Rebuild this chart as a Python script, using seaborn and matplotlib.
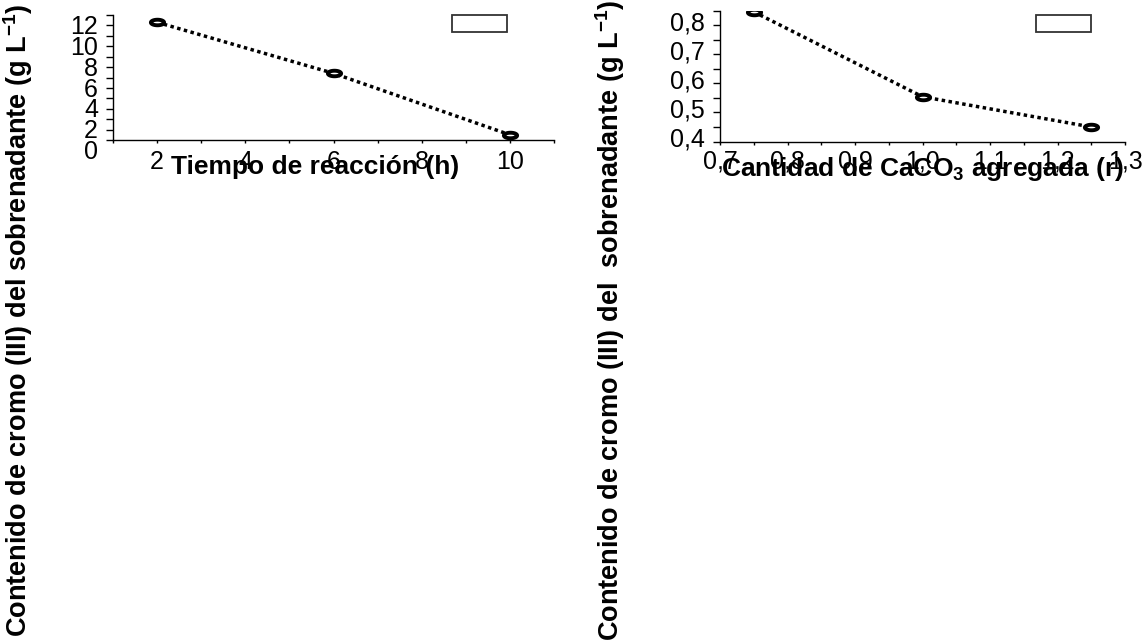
import numpy as np
import pandas as pd
import matplotlib
matplotlib.use("Agg")
import matplotlib.pyplot as plt
import matplotlib.transforms as mtransforms
from matplotlib.path import Path
from matplotlib.patches import Rectangle
import seaborn as sns

# ----------------------------
# Data
# ----------------------------
tiempo_h = [2, 6, 10]
cromo_tiempo = [11.3, 6.4, 0.5]

caco3_r = [0.75, 1.0, 1.25]
cromo_caco3 = [0.846, 0.554, 0.45]

tiempo_ticks = [2, 4, 6, 8, 10]
tiempo_yticks = [0, 2, 4, 6, 8, 10, 12]
caco3_ticks = [0.7, 0.8, 0.9, 1.0, 1.1, 1.2, 1.3]
caco3_labels = ["0,7", "0,8", "0,9", "1,0", "1,1", "1,2", "1,3"]
caco3_yticks = [0.4, 0.5, 0.6, 0.7, 0.8]
caco3_ylabels = ["0,4", "0,5", "0,6", "0,7", "0,8"]

df_t = pd.DataFrame({"tiempo": tiempo_h, "cromo": cromo_tiempo})
df_c = pd.DataFrame({"caco3": caco3_r, "cromo": cromo_caco3})

sns.set_style("ticks")
plt.rcParams["font.family"] = ["Liberation Sans", "DejaVu Sans"]
plt.rcParams["mathtext.fontset"] = "custom"
plt.rcParams["mathtext.rm"] = "Liberation Sans"
plt.rcParams["mathtext.bf"] = "Liberation Sans:bold"
for key in ("text.color", "axes.labelcolor", "xtick.color", "ytick.color",
            "axes.edgecolor"):
    plt.rcParams[key] = "black"

# flat ellipse marker like the original
t = np.linspace(0, 2 * np.pi, 60)
ellipse = Path(np.column_stack([np.cos(t), 0.42 * np.sin(t)]), closed=True)

line_kw = dict(color="black", linewidth=2.5, linestyle=(0, (1, 1)),
               marker=ellipse, markersize=9.5, markeredgewidth=2.8,
               markerfacecolor="white", markeredgecolor="black")

fig = plt.figure(figsize=(11.44, 6.4), dpi=100)
ax1 = fig.add_axes([0.0988, 0.78125, 0.3855, 0.1953])
ax2 = fig.add_axes([0.6294, 0.7789, 0.354, 0.2044])

# Panel 1: reaction time
sns.lineplot(data=df_t, x="tiempo", y="cromo", ax=ax1, **line_kw)
ax1.set_xlim(1, 11)
ax1.set_ylim(0, 12)
ax1.set_xticks(tiempo_ticks)
ax1.set_xticks(range(1, 12, 2), minor=True)
ax1.set_yticks(tiempo_yticks)
ax1.set_yticks(range(1, 12, 2), minor=True)
ax1.set_xlabel("Tiempo de reacción (h)", fontsize=19, fontweight="bold")
ax1.xaxis.set_label_coords(0.458, -0.12)
ax1.set_ylabel("")
ax1.tick_params(axis="x", which="both", direction="out", length=2.5, width=1,
                labelsize=18, pad=5)
ax1.tick_params(axis="y", which="both", direction="out", length=4.8, width=1,
                labelsize=18, pad=6)
shift_down = mtransforms.ScaledTranslation(0, -0.095, fig.dpi_scale_trans)
for lab in ax1.get_yticklabels():
    lab.set_transform(lab.get_transform() + shift_down)
ax1.add_patch(Rectangle((0.769, 0.866), 0.124, 0.136, transform=ax1.transAxes,
                        facecolor="white", edgecolor="#333333", linewidth=1.3,
                        clip_on=False))

# Panel 2: amount of CaCO3
sns.lineplot(data=df_c, x="caco3", y="cromo", ax=ax2, **line_kw)
ax2.set_xlim(0.7, 1.3)
ax2.set_ylim(0.4, 0.85)
ax2.set_xticks(caco3_ticks, labels=caco3_labels)
ax2.set_xticks([0.75, 0.85, 0.95, 1.05, 1.15, 1.25], minor=True)
ax2.set_yticks(caco3_yticks, labels=caco3_ylabels)
ax2.set_yticks([0.45, 0.55, 0.65, 0.75, 0.85], minor=True)
ax2.set_xlabel("Cantidad de CaCO$_\\mathbf{3}$ agregada (r)", fontsize=19,
               fontweight="bold")
ax2.xaxis.set_label_coords(0.5, -0.105)
ax2.set_ylabel("")
ax2.tick_params(axis="x", which="both", direction="out", length=2.5, width=1,
                labelsize=18, pad=3)
ax2.tick_params(axis="y", which="both", direction="out", length=4.8, width=1,
                labelsize=18, pad=6)
shift_up = mtransforms.ScaledTranslation(0, 0.045, fig.dpi_scale_trans)
for lab in ax2.get_yticklabels():
    lab.set_transform(lab.get_transform() + shift_up)
ax2.add_patch(Rectangle((0.780, 0.837), 0.136, 0.130, transform=ax2.transAxes,
                        facecolor="white", edgecolor="#333333", linewidth=1.3,
                        clip_on=False))

for ax in (ax1, ax2):
    sns.despine(ax=ax)
    for side in ("left", "bottom"):
        ax.spines[side].set_linewidth(1)
        ax.spines[side].set_color("black")

# y labels stretched over the full figure height
fig.text(0.016, 0.5, "Contenido de cromo (III) del sobrenadante (g L$^{\\mathbf{-1}}$)",
         rotation=90, ha="center", va="center", fontsize=19.5, fontweight="bold")
fig.text(0.533, 0.5, "Contenido de cromo (III) del  sobrenadante (g L$^{\\mathbf{-1}}$)",
         rotation=90, ha="center", va="center", fontsize=19.5, fontweight="bold")

plt.savefig("out.png", dpi=100)
